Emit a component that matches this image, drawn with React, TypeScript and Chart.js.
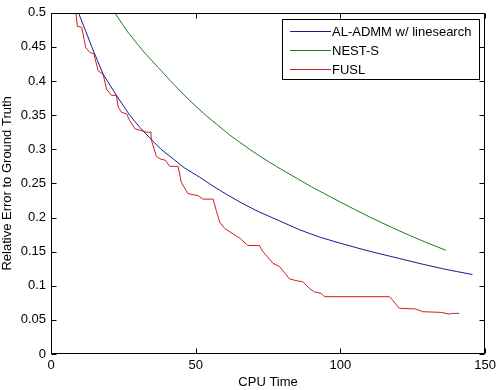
import React, { useEffect, useRef } from "react";
import { Chart, registerables } from "chart.js";

Chart.register(...registerables);

const seriesLabels = ["AL-ADMM w/ linesearch", "NEST-S", "FUSL"];
const seriesColors = ["#1a1a96", "#1e7a1e", "#d01e1e"];

const alX = [9.5, 12, 14.2, 18, 22.6, 27.2, 30.7, 34.5, 38, 42.2, 46, 51.4, 56, 61, 66, 71.5, 79, 85.9, 93, 100.2, 110, 120.3, 128, 135.3, 140, 145.6];
const alY = [0.5, 0.473, 0.449, 0.41, 0.379, 0.35, 0.332, 0.315, 0.3, 0.286, 0.273, 0.259, 0.246, 0.233, 0.221, 0.209, 0.195, 0.182, 0.171, 0.162, 0.1506, 0.14, 0.132, 0.125, 0.121, 0.1165];

const nestX = [22, 26.5, 31.8, 37, 42.2, 48, 53.7, 61.7, 68.6, 73.2, 78, 84.7, 90, 96.2, 103, 110, 118, 124, 129.5, 136.4];
const nestY = [0.5, 0.472, 0.444, 0.42, 0.396, 0.371, 0.349, 0.321, 0.3, 0.287, 0.2745, 0.258, 0.245, 0.231, 0.216, 0.201, 0.185, 0.1736, 0.1637, 0.152];

const fuslX = [8.6, 9.1, 10.6, 12, 13.4, 14.8, 16.3, 18, 19.2, 20.9, 22.6, 23.2, 24.4, 26.1, 27.2, 29, 30.7, 33, 34.5, 34.7, 36.4, 37.6, 39.5, 41, 43.9, 45, 47.3, 50.8, 52.5, 56, 57.1, 58.3, 60, 62.9, 65.5, 68, 72, 73.2, 76.7, 79, 82.4, 85.3, 87, 89.3, 91, 93.3, 94.5, 116.9, 118, 120.3, 126, 128.4, 134.7, 137.6, 138.7, 141];
const fuslY = [0.5, 0.48, 0.479, 0.449, 0.442, 0.44, 0.415, 0.41, 0.388, 0.379, 0.379, 0.362, 0.354, 0.352, 0.342, 0.33, 0.328, 0.325, 0.325, 0.313, 0.29, 0.286, 0.284, 0.275, 0.275, 0.252, 0.235, 0.232, 0.227, 0.227, 0.21, 0.193, 0.184, 0.176, 0.169, 0.159, 0.159, 0.15, 0.133, 0.128, 0.11, 0.107, 0.106, 0.096, 0.091, 0.089, 0.084, 0.084, 0.079, 0.067, 0.066, 0.062, 0.061, 0.0585, 0.0595, 0.0595];

const xTitle = "CPU Time";
const yTitle = "Relative Error to Ground Truth";
const xMin = 0, xMax = 150, xStep = 50;
const yMin = 0, yMax = 0.5, yStep = 0.05;

const FONT = "'Liberation Sans', Arial, sans-serif";

const zip = (xs: number[], ys: number[]) => xs.map((x, i) => ({ x, y: ys[i] }));

const framePlugin = {
  id: "matlabFrame",
  afterDraw(chart: any) {
    const { ctx, chartArea } = chart;
    const { left, right, top, bottom } = chartArea;
    const xs = chart.scales.x;
    const ys = chart.scales.y;
    ctx.save();
    ctx.strokeStyle = "#000";
    ctx.lineWidth = 1;
    const L = Math.round(left) + 0.5, R = Math.round(right) - 0.5;
    const T = Math.round(top) + 0.5, B = Math.round(bottom) - 0.5;
    ctx.beginPath();
    ctx.rect(L, T, R - L, B - T);
    ctx.stroke();
    const tl = 5;
    ctx.beginPath();
    xs.ticks.forEach((t: any) => {
      const px = Math.round(xs.getPixelForValue(t.value)) + 0.5;
      ctx.moveTo(px, B); ctx.lineTo(px, B - tl);
      ctx.moveTo(px, T); ctx.lineTo(px, T + tl);
    });
    ys.ticks.forEach((t: any) => {
      const py = Math.round(ys.getPixelForValue(t.value)) + 0.5;
      ctx.moveTo(L, py); ctx.lineTo(L + tl, py);
      ctx.moveTo(R, py); ctx.lineTo(R - tl, py);
    });
    ctx.stroke();

    // legend box
    const bx = 282.5, by = 19.5, bw = 197, bh = 60;
    ctx.fillStyle = "#fff";
    ctx.fillRect(bx, by, bw, bh);
    ctx.strokeStyle = "#000";
    ctx.strokeRect(bx, by, bw, bh);
    ctx.font = `13px ${FONT}`;
    ctx.textBaseline = "middle";
    ctx.textAlign = "left";
    const rows = [31, 50, 69];
    seriesLabels.forEach((label, i) => {
      ctx.fillStyle = seriesColors[i];
      ctx.fillRect(290, rows[i], 41, 1);
      ctx.fillStyle = "#000";
      ctx.fillText(label, 332, rows[i] + 1);
    });
    ctx.restore();
  },
};

export default function App() {
  const ref = useRef<HTMLCanvasElement>(null);
  useEffect(() => {
    document.body.style.margin = "0";
    const canvas = ref.current!;
    const chart = new Chart(canvas, {
      type: "line",
      data: {
        datasets: [
          { label: seriesLabels[0], data: zip(alX, alY), borderColor: seriesColors[0] },
          { label: seriesLabels[1], data: zip(nestX, nestY), borderColor: seriesColors[1] },
          { label: seriesLabels[2], data: zip(fuslX, fuslY), borderColor: seriesColors[2] },
        ].map((d) => ({ ...d, borderWidth: 1, pointRadius: 0, tension: 0, fill: false })),
      },
      options: {
        animation: false,
        responsive: false,
        layout: { padding: { top: 12, right: 14, left: 0, bottom: 0 } },
        plugins: { legend: { display: false }, tooltip: { enabled: false } },
        scales: {
          x: {
            type: "linear",
            min: xMin,
            max: xMax,
            grid: { display: false, drawTicks: false },
            border: { display: false },
            ticks: { stepSize: xStep, padding: 4, color: "#000", font: { family: FONT, size: 13 }, maxRotation: 0 },
            title: { display: true, text: xTitle, color: "#000", font: { family: FONT, size: 13 }, padding: { top: 0, bottom: 0 } },
            afterFit: (s: any) => { s.height = 36; },
          },
          y: {
            type: "linear",
            min: yMin,
            max: yMax,
            grid: { display: false, drawTicks: false },
            border: { display: false },
            ticks: {
              stepSize: yStep,
              padding: 5,
              color: "#000",
              font: { family: FONT, size: 13 },
              callback: (v: any) => String(Number(Number(v).toFixed(2))),
            },
            title: { display: true, text: yTitle, color: "#000", font: { family: FONT, size: 13 }, padding: { top: 0, bottom: 0 } },
            afterFit: (s: any) => { s.width = 51; },
          },
        },
      },
      plugins: [framePlugin],
    });
    return () => chart.destroy();
  }, []);
  return (
    <div style={{ position: "fixed", left: 0, top: 0, width: 500, height: 390, background: "#fff" }}>
      <canvas ref={ref} width={500} height={390} />
    </div>
  );
}
